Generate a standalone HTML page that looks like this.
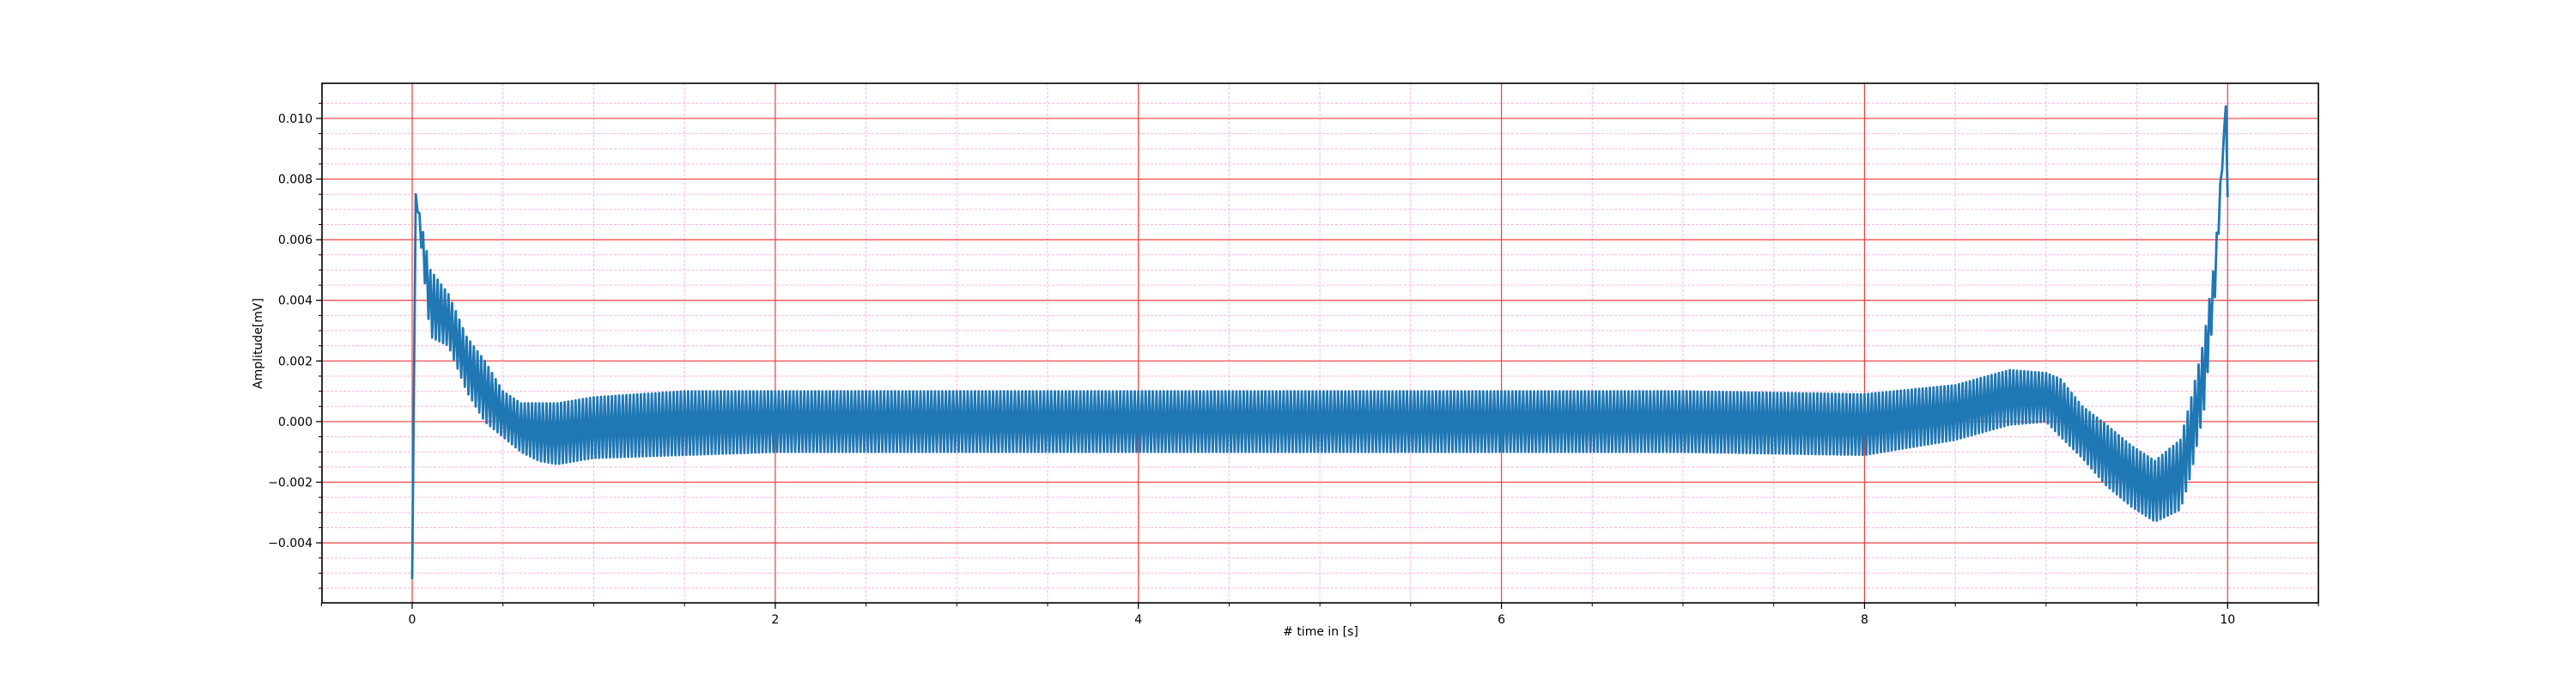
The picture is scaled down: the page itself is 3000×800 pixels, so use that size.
<!DOCTYPE html>
<html><head><meta charset="utf-8"><style>
html,body{margin:0;padding:0;background:#fff;}
svg{display:block;font-family:"DejaVu Sans","Liberation Sans",sans-serif;}
</style></head><body>
<svg id="chart" width="3000" height="800" viewBox="0 0 3000 800" xmlns="http://www.w3.org/2000/svg">
<rect width="3000" height="800" fill="#fff"/>
<g id="grid"></g>
<g id="series"></g>
<rect x="375" y="97" width="2325" height="605" fill="none" stroke="#000" stroke-width="1.6"/>
<g id="ticks"></g>
<text x="1538" y="740" font-size="14" text-anchor="middle"># time in [s]</text>
<text transform="translate(305,400) rotate(-90)" font-size="14" text-anchor="middle">Amplitude[mV]</text>
</svg>
<script>
const xTicks=[0,2,4,6,8,10];
const xTickLabels=["0","2","4","6","8","10"];
const yTicks=[-0.004,-0.002,0,0.002,0.004,0.006,0.008,0.010];
const yTickLabels=["\u22120.004","\u22120.002","0.000","0.002","0.004","0.006","0.008","0.010"];
const envTime=[0,0.02,0.1,0.2,0.3,0.4,0.5,0.6,0.7,0.8,0.9,1.0,1.5,2,3,4,5,6,7,8,8.5,8.8,9.0,9.08,9.2,9.33,9.47,9.6,9.74,9.8,9.87,9.93,9.99,10.0];
const envHigh=[-0.0052,0.0075,0.005,0.0042,0.0028,0.002,0.001,0.0006,0.0006,0.0006,0.0007,0.0008,0.001,0.001,0.001,0.001,0.001,0.001,0.001,0.0009,0.0012,0.0017,0.0016,0.0014,0.0005,-0.0001,-0.0008,-0.0013,-0.0006,0.0008,0.0027,0.0054,0.0104,0.0074];
const envLow=[-0.0052,0.0075,0.0028,0.0025,0.001,0.0,-0.0005,-0.001,-0.0013,-0.0014,-0.0013,-0.0012,-0.0011,-0.001,-0.001,-0.001,-0.001,-0.001,-0.001,-0.0011,-0.0006,-0.0001,0.0,-0.0005,-0.0012,-0.0021,-0.0028,-0.0033,-0.0029,-0.0017,0.0004,0.0041,0.0104,0.0074];
const cycleHz=50;
const X0=375,X1=2700,Y0=97,Y1=702;
const xMin=-0.4967,xMax=10.5,yMin=-0.00598,yMax=0.01116;
const sx=v=>X0+(v-xMin)/(xMax-xMin)*(X1-X0);
const sy=v=>Y1-(v-yMin)/(yMax-yMin)*(Y1-Y0);
const NS="http://www.w3.org/2000/svg";
function mk(tag,attrs,parent){const e=document.createElementNS(NS,tag);for(const k in attrs)e.setAttribute(k,attrs[k]);parent.appendChild(e);return e;}
const grid=document.getElementById('grid'),ticks=document.getElementById('ticks'),series=document.getElementById('series');
for(let v=-0.0055;v<=0.011;v+=0.0005){const y=sy(v);const l=mk('line',{x1:X0,x2:X1,y1:y,y2:y,stroke:'#ffb3e6','stroke-width':1,'stroke-dasharray':'3,2'},grid);


const t=mk('line',{x1:X0-4,x2:X0,y1:y,y2:y,stroke:'#000','stroke-width':1},ticks);

}
for(let v=-0.5;v<=10.5;v+=0.5){const x=sx(v);const l=mk('line',{x1:x,x2:x,y1:Y0,y2:Y1,stroke:'#ffb3e6','stroke-width':1,'stroke-dasharray':'3,2'},grid);


const t=mk('line',{x1:x,x2:x,y1:Y1,y2:Y1+4,stroke:'#000','stroke-width':1},ticks);

}
yTicks.forEach((v,i)=>{const y=sy(v);
const l=mk('line',{x1:X0,x2:X1,y1:y,y2:y,stroke:'#f04040','stroke-width':1.2},grid);


const t=mk('line',{x1:X0-7,x2:X0,y1:y,y2:y,stroke:'#000','stroke-width':1.2},ticks);


const tx=mk('text',{x:X0-11,y:y+5,'font-size':14,'text-anchor':'end'},ticks);tx.textContent=yTickLabels[i];

});
xTicks.forEach((v,i)=>{const x=sx(v);
const l=mk('line',{x1:x,x2:x,y1:Y0,y2:Y1,stroke:'#f04040','stroke-width':1.2},grid);


const t=mk('line',{x1:x,x2:x,y1:Y1,y2:Y1+7,stroke:'#000','stroke-width':1.2},ticks);


const tx=mk('text',{x:x,y:Y1+24,'font-size':14,'text-anchor':'middle'},ticks);tx.textContent=xTickLabels[i];

});
function interp(arr,t){for(let i=1;i<envTime.length;i++){if(t<=envTime[i]){const a=envTime[i-1],b=envTime[i];const f=(t-a)/(b-a);return arr[i-1]+(arr[i]-arr[i-1])*f;}}return arr[arr.length-1];}
let pts=[];const half=1/(2*cycleHz);
pts.push([sx(envTime[0]),sy(envLow[0])]);
pts.push([sx(envTime[1]),sy(envHigh[1])]);
let k=0;
for(let t=envTime[1]+half;t<envTime[envTime.length-1];t+=half){const v=(k%2===0)?interp(envLow,t):interp(envHigh,t);pts.push([sx(t),sy(v)]);k++;}
pts.push([sx(10),sy(envHigh[envHigh.length-1])]);
const p=mk('polyline',{points:pts.map(q=>q[0].toFixed(1)+','+q[1].toFixed(1)).join(' '),fill:'none',stroke:'#1f77b4','stroke-width':2.8,'stroke-linejoin':'round'},series);


</script>
</body></html>
